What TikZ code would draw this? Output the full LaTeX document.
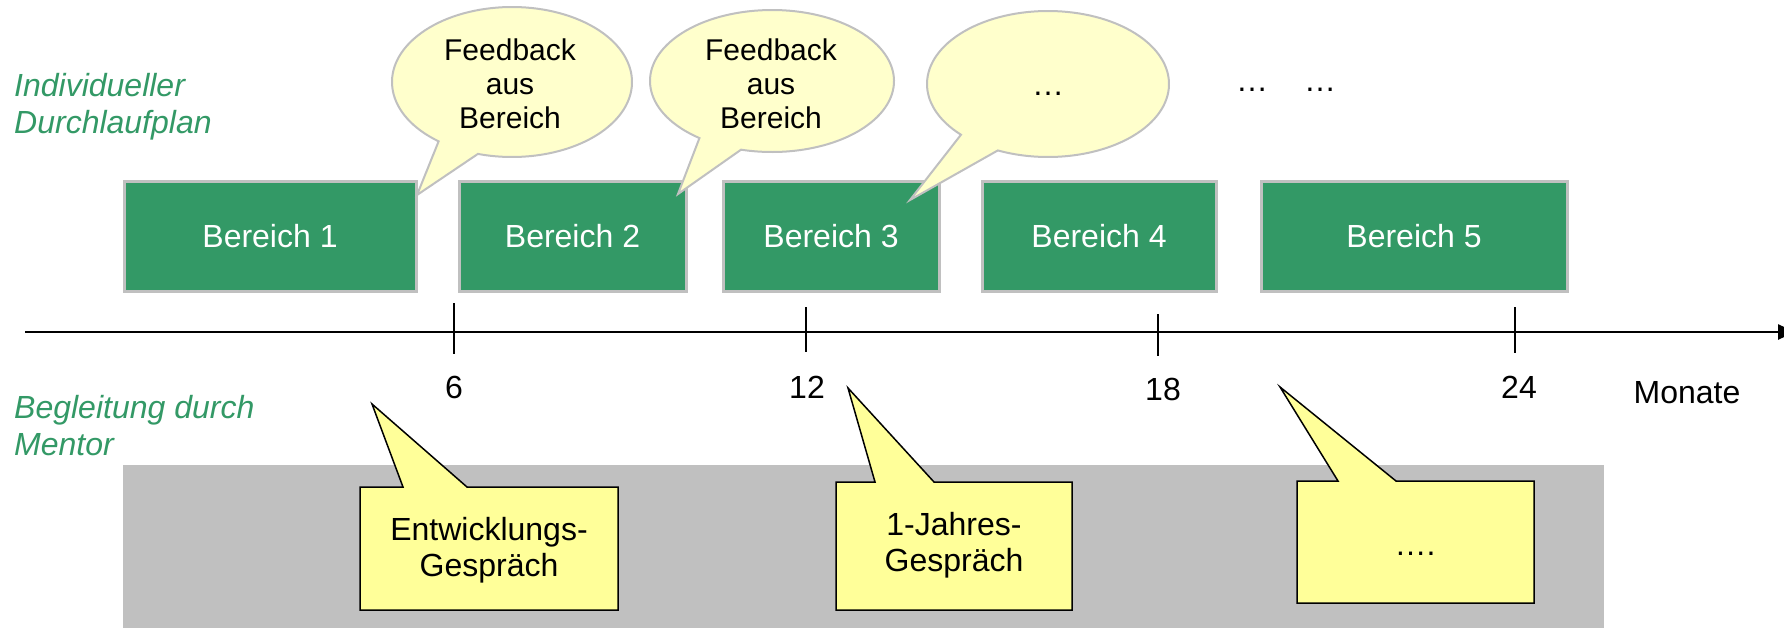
\documentclass[tikz,border=0pt]{standalone}
\usepackage{fontspec}
\setmainfont{Liberation Sans}
\usetikzlibrary{arrows.meta}
\definecolor{bgreen}{HTML}{339966}
\definecolor{lyellow}{HTML}{FFFFCC}
\definecolor{cyellow}{HTML}{FFFF99}
\definecolor{lgray}{HTML}{C0C0C0}
\begin{document}
\begin{tikzpicture}[x=1pt,y=-1pt,
  bereich/.style={draw=lgray, line width=3pt, fill=bgreen, text=white, minimum height=110pt, inner sep=0pt, font=\fontsize{32}{37}\selectfont},
  bubble/.style={draw=lgray, line width=2pt, fill=lyellow, line join=miter},
  callout/.style={draw=black, line width=1.5pt, fill=cyellow, line join=miter},
  txt/.style={font=\fontsize{32}{36}\selectfont, align=center, inner sep=0pt},
  fbtxt/.style={font=\fontsize{30}{34}\selectfont, align=center, inner sep=0pt},
  side/.style={font=\fontsize{32}{37}\selectfont\itshape, text=bgreen, align=left, anchor=west, inner sep=0pt},
  tickmark/.style={line width=2pt}]
\useasboundingbox (0,0) rectangle (1784,627);
\clip (0,0) rectangle (1784,627);
\fill[white] (0,0) rectangle (1784,627);

% side labels
\node[side] (lab1) at (14,107) {Individueller\\Durchlaufplan};
\node[side] (lab2) at (14,426) {Begleitung durch\\Mentor};

% gray band
\fill[lgray] (123,465) rectangle (1604,640);

% Bereich boxes
\node[bereich, minimum width=292pt] (b1) at (270,236) {\raisebox{-2pt}{Bereich 1}};
\node[bereich, minimum width=227pt] (b2) at (572.5,236) {\raisebox{-2pt}{Bereich 2}};
\node[bereich, minimum width=216pt] (b3) at (831,236.5) {\raisebox{-2pt}{Bereich 3}};
\node[bereich, minimum width=234pt] (b4) at (1099,236) {\raisebox{-2pt}{Bereich 4}};
\node[bereich, minimum width=306pt] (b5) at (1414,236) {\raisebox{-2pt}{Bereich 5}};

% speech bubbles
\draw[bubble] (512,82) ++(127.7:120 and 75) arc[start angle=127.7, end angle=466.5, x radius=120, y radius=75] -- (417,195) -- cycle;
\node[fbtxt] (f1) at (510,84) {Feedback\\aus\\Bereich};
\draw[bubble] (772,81) ++(126.5:122 and 71) arc[start angle=126.5, end angle=464.7, x radius=122, y radius=71] -- (678,194) -- cycle;
\node[fbtxt] (f2) at (771,84) {Feedback\\aus\\Bereich};
\draw[bubble] (1048,84) ++(136:121 and 73) arc[start angle=136, end angle=474.5, x radius=121, y radius=73] -- (910,200) -- cycle;
\node[txt, anchor=base] (f3) at (1048,95) {…};
\node[txt, anchor=base] (d1) at (1252,91) {…};
\node[txt, anchor=base] (d2) at (1320,91) {…};

% axis
\coordinate (axs) at (25,332);
\coordinate (axe) at (1795,332);
\draw[line width=2.5pt, -{Triangle[length=17pt,width=15pt]}] (axs) -- (axe);
\draw[tickmark] (454,303) -- (454,354);
\draw[tickmark] (806,307) -- (806,352);
\draw[tickmark] (1158,314) -- (1158,356);
\draw[tickmark] (1515,307) -- (1515,353);
\node[txt] (t6) at (454,387) {6};
\node[txt] (t12) at (807,387) {12};
\node[txt] (t18) at (1163,389) {18};
\node[txt] (t24) at (1519,387) {24};
\node[txt] (mon) at (1687,393) {Monate};

% mentor callouts
\draw[callout] (360,487) -- (403,487) -- (372,404) -- (467,487) -- (618,487) -- (618,610) -- (360,610) -- cycle;
\node[txt] (c1) at (489,550) {Entwicklungs-\\Gespräch};
\draw[callout] (836,482) -- (875,482) -- (848,388) -- (934,482) -- (1072,482) -- (1072,610) -- (836,610) -- cycle;
\node[txt] (c2) at (954,545) {1-Jahres-\\Gespräch};
\draw[callout] (1297,481) -- (1338,481) -- (1280,387) -- (1396,481) -- (1534,481) -- (1534,603) -- (1297,603) -- cycle;
\node[txt, anchor=base] (c3) at (1415,555) {….};
\end{tikzpicture}
\end{document}
